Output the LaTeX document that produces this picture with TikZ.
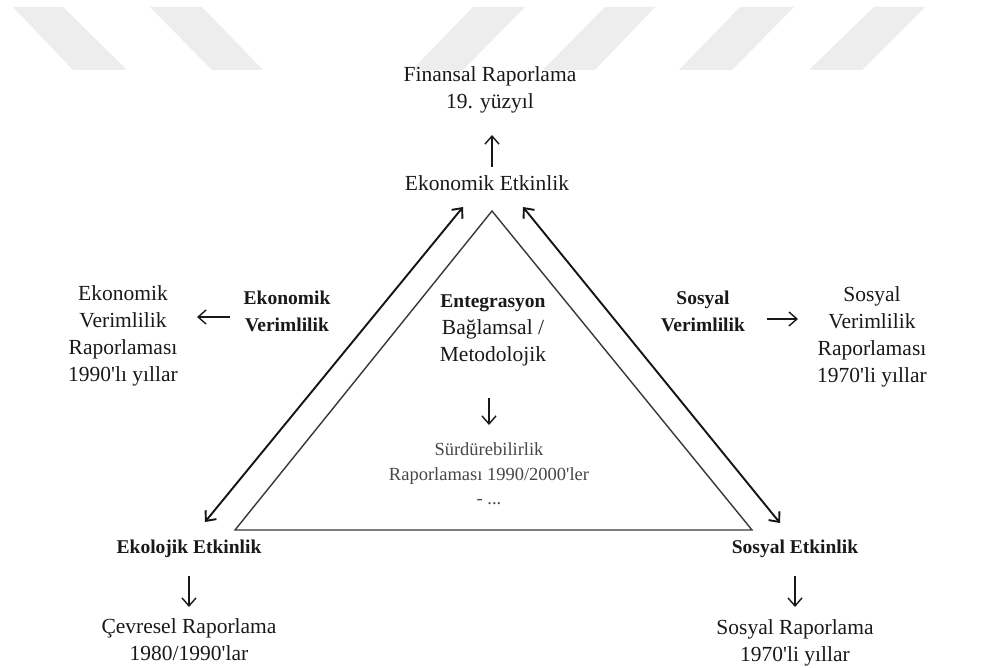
\documentclass[tikz,border=0pt]{standalone}
\usepackage{fontspec}
\setmainfont{Liberation Serif}[Ligatures=TeXOff]
\usetikzlibrary{arrows.meta}
\begin{document}
\begin{tikzpicture}[x=1pt,y=-1pt,
  reg/.style={font=\fontsize{21.5}{27}\selectfont, align=center, inner sep=0pt, text=black!90},
  bld/.style={font=\fontsize{19.5}{27}\selectfont\bfseries, align=center, inner sep=0pt, text=black!90},
  sml/.style={font=\fontsize{18.5}{24.5}\selectfont, align=center, inner sep=0pt, text=black!72},
  stripe/.style={fill=black!7, draw=none},
  tri/.style={draw=black!78, line width=1.4pt, line join=miter},
  dbl/.style={draw=black!92, line width=1.9pt, {Straight Barb[length=8pt,width=14pt]}-{Straight Barb[length=8pt,width=14pt]}},
  sar/.style={draw=black!90, line width=1.4pt, -{Straight Barb[length=8pt,width=14pt]}}
]
\useasboundingbox (0,0) rectangle (982,668);
\fill[white] (0,0) rectangle (982,668);
% watermark stripes
\fill[stripe] (13,7) -- (63,7) -- (127,70) -- (73,70) -- cycle;
\fill[stripe] (150,7) -- (202,7) -- (263,70) -- (212,70) -- cycle;
\fill[stripe] (473,7) -- (525,7) -- (463,70) -- (412,70) -- cycle;
\fill[stripe] (605,7) -- (655,7) -- (595,70) -- (543,70) -- cycle;
\fill[stripe] (740,7) -- (794,7) -- (732,70) -- (679,70) -- cycle;
\fill[stripe] (874,7) -- (925,7) -- (862,70) -- (809,70) -- cycle;

% triangle
\coordinate (tA) at (492,211);
\coordinate (tB) at (235,530);
\coordinate (tC) at (752,530);
\draw[tri] (tA) -- (tB) -- (tC) -- cycle;

% long double arrows
\coordinate (l1) at (205,522);
\coordinate (l2) at (463,207);
\coordinate (r1) at (523,207);
\coordinate (r2) at (780,523);
\draw[dbl] (l1) -- (l2);
\draw[dbl] (r1) -- (r2);

% texts
\node[reg] (fin) at (490,90) {Finansal Raporlama\\19. yüzyıl};
\node[reg] (eke) at (487,183) {Ekonomik Etkinlik};
\node[bld] (ekv) at (287,311) {Ekonomik\\Verimlilik};
\node[reg] (ekvr) at (123,336) {Ekonomik\\Verimlilik\\Raporlaması\\1990'lı yıllar};
\node[bld] (sov) at (703,311) {Sosyal\\Verimlilik};
\node[reg] (sovr) at (872,337) {Sosyal\\Verimlilik\\Raporlaması\\1970'li yıllar};
\node[bld] (ent) at (493,303) {Entegrasyon};
\node[reg] (bag) at (493,343) {Bağlamsal /\\Metodolojik};
\node[sml] (sur) at (489,474) {Sürdürebilirlik\\Raporlaması 1990/2000'ler\\- ...};
\node[bld] (ekol) at (189,549) {Ekolojik Etkinlik};
\node[reg] (cev) at (189,640) {Çevresel Raporlama\\1980/1990'lar};
\node[bld] (soet) at (795,549) {Sosyal Etkinlik};
\node[reg] (sor) at (795,643) {Sosyal Raporlama\\1970'li yıllar};

% short arrows
\coordinate (a1s) at (492,167); \coordinate (a1e) at (492,135);
\coordinate (a2s) at (230,317); \coordinate (a2e) at (197,317);
\coordinate (a3s) at (767,319); \coordinate (a3e) at (798,319);
\coordinate (a4s) at (489,398); \coordinate (a4e) at (489,425);
\coordinate (a5s) at (189,576); \coordinate (a5e) at (189,607);
\coordinate (a6s) at (795,576); \coordinate (a6e) at (795,607);
\draw[sar] (a1s) -- (a1e);
\draw[sar] (a2s) -- (a2e);
\draw[sar] (a3s) -- (a3e);
\draw[sar] (a4s) -- (a4e);
\draw[sar] (a5s) -- (a5e);
\draw[sar] (a6s) -- (a6e);
\end{tikzpicture}
\end{document}
